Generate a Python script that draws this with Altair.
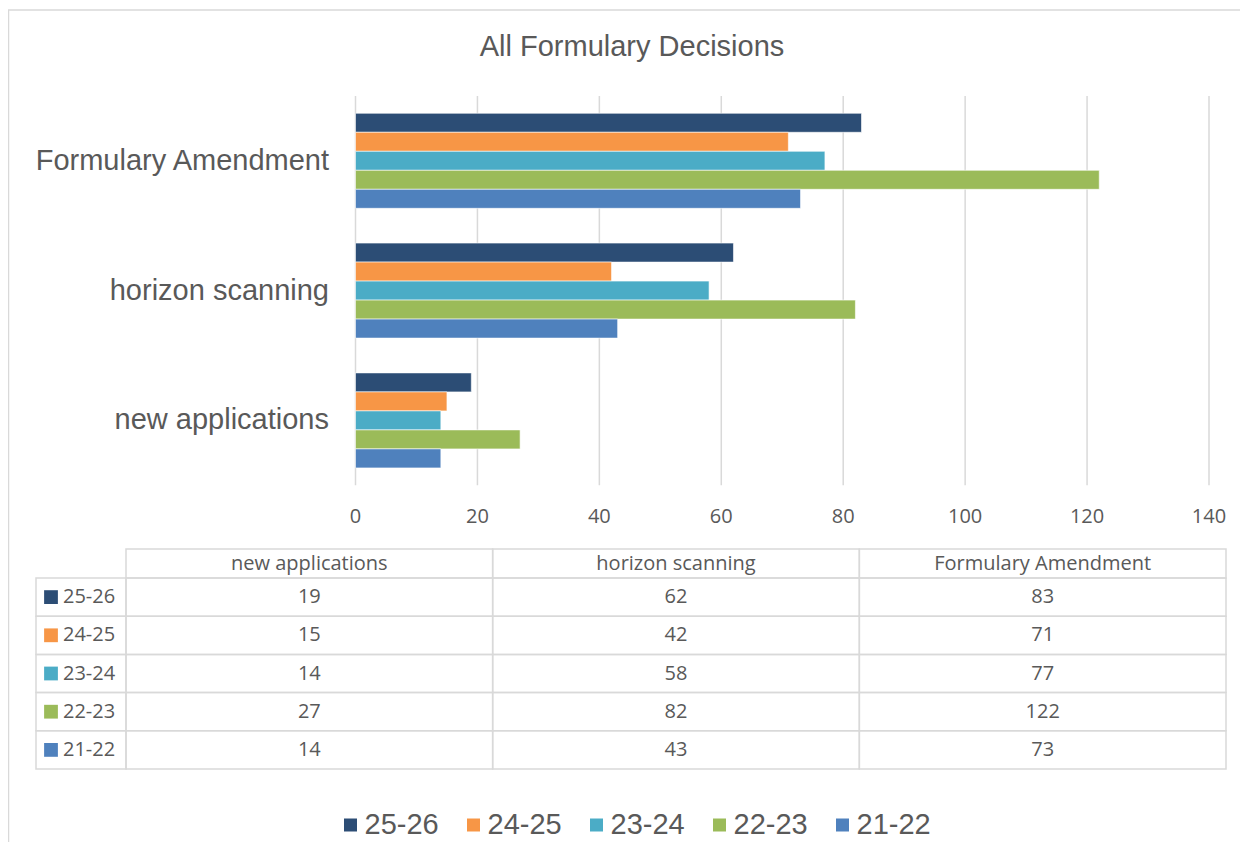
import altair as alt
import pandas as pd

# ---- data ----
title_text = "All Formulary Decisions"
categories = ["new applications", "horizon scanning", "Formulary Amendment"]
years = ["25-26", "24-25", "23-24", "22-23", "21-22"]
vals_25_26 = [19, 62, 83]
vals_24_25 = [15, 42, 71]
vals_23_24 = [14, 58, 77]
vals_22_23 = [27, 82, 122]
vals_21_22 = [14, 43, 73]
x_ticks = [0, 20, 40, 60, 80, 100, 120, 140]
colors = ["#2C4D75", "#F79646", "#4BACC6", "#9BBB59", "#4F81BD"]

series = [vals_25_26, vals_24_25, vals_23_24, vals_22_23, vals_21_22]
rows = []
for yr, vals in zip(years, series):
    for cat, v in zip(categories, vals):
        rows.append({"year": yr, "category": cat, "value": v})
df = pd.DataFrame(rows)
df_cat = pd.DataFrame({"category": categories})
df_years = pd.DataFrame({"year": years})
df_ticks = pd.DataFrame({"tick": x_ticks})
df_title = pd.DataFrame({"t": [title_text]})
df_one = pd.DataFrame({"a": [0]})

W, H = 1232, 834
GRID = "#D9D9D9"
TXT = "#595959"
ARIAL = "Liberation Sans"
CAL = "Open Sans"

# ---- scales ----
xs = alt.Scale(domain=[0, 140], range=[347.5, 1201])
ys = alt.Scale(domain=categories[::-1], range=[87.9, 477.3], paddingInner=0.268, paddingOuter=0.134)
cs = alt.Scale(domain=years, range=colors)
col_s = alt.Scale(domain=categories, range=[118, 1218], paddingInner=0, paddingOuter=0)
row_s = alt.Scale(domain=years, range=[570, 761], paddingInner=0, paddingOuter=0)
leg_s = alt.Scale(type="point", domain=years, range=[342.5, 834.5], padding=0)

# frame
frame_left = alt.Chart(df_one).mark_rule(color=GRID, strokeWidth=1.5).encode(
    x=alt.value(0.5), y=alt.value(2), y2=alt.value(H))
frame_top = alt.Chart(df_one).mark_rule(color=GRID, strokeWidth=1.5).encode(
    x=alt.value(0), x2=alt.value(W), y=alt.value(2))

title = alt.Chart(df_title).mark_text(font=ARIAL, fontSize=29, color=TXT, baseline="middle").encode(
    x=alt.value(624), y=alt.value(39), text="t:N")

grid = alt.Chart(df_ticks).mark_rule(color=GRID, strokeWidth=1.5).encode(
    x=alt.X("tick:Q", scale=xs, axis=None), y=alt.value(88), y2=alt.value(477.3))

tick_lbl = alt.Chart(df_ticks).mark_text(font=CAL, fontSize=20, color=TXT, baseline="middle").encode(
    x=alt.X("tick:Q", scale=xs, axis=None), y=alt.value(509), text="tick:Q")

bars = alt.Chart(df).mark_bar(stroke="white", strokeWidth=0.6).encode(
    x=alt.X("value:Q", scale=xs, axis=None),
    y=alt.Y("category:N", scale=ys, axis=None),
    yOffset=alt.YOffset("year:N", scale=alt.Scale(domain=years, paddingInner=0, paddingOuter=0)),
    color=alt.Color("year:N", scale=cs, legend=None),
)

cat_lbl = alt.Chart(df_cat).mark_text(font=ARIAL, fontSize=29, color=TXT, align="right", baseline="middle").encode(
    y=alt.Y("category:N", scale=ys, axis=None), x=alt.value(321), text="category:N")

# table
cells = alt.Chart(df).mark_rect(fillOpacity=0, stroke=GRID, strokeWidth=1.5).encode(
    x=alt.X("category:N", scale=col_s, axis=None),
    y=alt.Y("year:N", scale=row_s, axis=None))
cell_txt = alt.Chart(df).mark_text(font=CAL, fontSize=20, color=TXT, baseline="middle").encode(
    x=alt.X("category:N", scale=col_s, axis=None),
    y=alt.Y("year:N", scale=row_s, axis=None), text="value:Q")
head_cells = alt.Chart(df_cat).mark_rect(fillOpacity=0, stroke=GRID, strokeWidth=1.5).encode(
    x=alt.X("category:N", scale=col_s, axis=None), y=alt.value(541), y2=alt.value(570))
head_txt = alt.Chart(df_cat).mark_text(font=CAL, fontSize=20, color=TXT, baseline="middle").encode(
    x=alt.X("category:N", scale=col_s, axis=None), y=alt.value(555.5), text="category:N")
key_cells = alt.Chart(df_years).mark_rect(fillOpacity=0, stroke=GRID, strokeWidth=1.5).encode(
    x=alt.value(28), x2=alt.value(118), y=alt.Y("year:N", scale=row_s, axis=None))
key_sq = alt.Chart(df_years).mark_square(size=190, opacity=1).encode(
    x=alt.value(43), y=alt.Y("year:N", scale=row_s, axis=None),
    color=alt.Color("year:N", scale=cs, legend=None))
key_txt = alt.Chart(df_years).mark_text(font=CAL, fontSize=20, color=TXT, align="left", baseline="middle").encode(
    x=alt.value(55), y=alt.Y("year:N", scale=row_s, axis=None), text="year:N")

# bottom legend
leg_sq = alt.Chart(df_years).mark_square(size=169, opacity=1).encode(
    x=alt.X("year:N", scale=leg_s, axis=None), y=alt.value(817),
    color=alt.Color("year:N", scale=cs, legend=None))
leg_txt = alt.Chart(df_years).mark_text(font=ARIAL, fontSize=29, color=TXT, align="left", baseline="middle", dx=14).encode(
    x=alt.X("year:N", scale=leg_s, axis=None), y=alt.value(817), text="year:N")

chart = alt.layer(
    frame_left, frame_top, title, grid, tick_lbl, bars, cat_lbl,
    cells, cell_txt, head_cells, head_txt, key_cells, key_sq, key_txt,
    leg_sq, leg_txt,
).resolve_scale(x="independent", y="independent").properties(
    width=W, height=H, padding=0, autosize=alt.AutoSizeParams(type="none")
).configure_view(stroke=None)

chart.save("out.html", embed_options={"renderer": "svg", "actions": False})
